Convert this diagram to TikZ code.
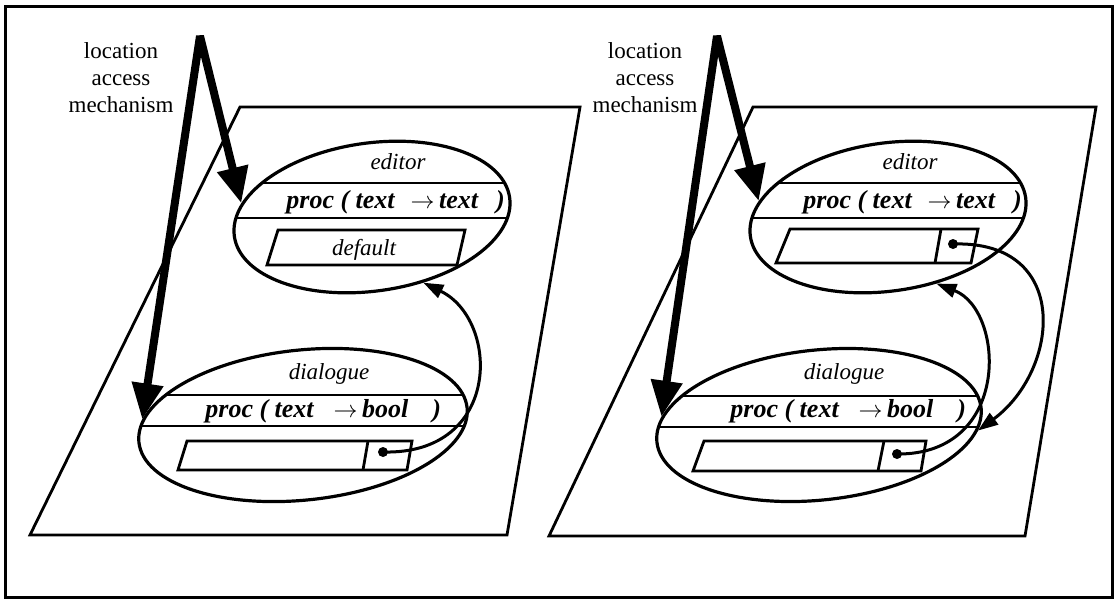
\documentclass[tikz,border=0pt]{standalone}
\usepackage{fontspec}
\setmainfont{Liberation Serif}
\usetikzlibrary{arrows.meta,shapes.geometric}
\tikzstyle{plane} = [line width=1.4pt, line join=miter]
\tikzstyle{cell} = [ellipse, draw, line width=1.6pt, inner sep=0pt]
\tikzstyle{slot} = [line width=1.4pt]
\tikzstyle{rule} = [line width=1.4pt]
\tikzstyle{access} = [line width=4pt, line join=bevel, arrows={Triangle[length=18pt,width=15pt]-Triangle[length=18pt,width=15pt]}]
\tikzstyle{link} = [line width=1.5pt, -{Triangle[length=10pt,width=7pt]}]
\tikzstyle{ptdot} = [circle, fill, inner sep=0pt, minimum size=5pt]
\tikzstyle{tag} = [inner sep=0pt, font=\fontsize{11.5}{13.5}\selectfont\itshape]
\tikzstyle{sig} = [inner sep=0pt, anchor=base west, font=\fontsize{13}{15}\selectfont\bfseries\itshape]
\tikzstyle{mech} = [inner sep=0pt, anchor=north, align=center, font=\fontsize{11.5}{13.5}\selectfont]

\begin{document}
\begin{tikzpicture}[x=0.5pt, y=-0.5pt]
\useasboundingbox (0,0) rectangle (1117,601);
\draw[line width=1.5pt] (5,6) rectangle (1112,597);

% Left panel: default value
\draw[plane] (240,107) -- (580,107) -- (507,535) -- (30,535) -- cycle;
\node[cell, rotate=8, minimum width=139pt, minimum height=74pt] (edL) at (372,217) {};
\node[cell, rotate=6, minimum width=165pt, minimum height=75pt] (dlL) at (303,425) {};
\begin{scope}
\clip[rotate around={8:(edL.center)}] (edL.center) ellipse [x radius=139, y radius=74];
\draw[rule] (200,183) -- (560,183) (200,218) -- (560,218);
\end{scope}
\begin{scope}
\clip[rotate around={6:(dlL.center)}] (dlL.center) ellipse [x radius=165, y radius=75];
\draw[rule] (100,395) -- (500,395) (100,426) -- (500,426);
\end{scope}

\node[tag] (edLname) at (398,162) {editor};
\node[sig] (edLsig) at (286,208) {proc ( text\hspace{8pt}$\rightarrow$\,text\hspace{9pt})};
\draw[slot] (278,230) -- (465,230) -- (457,265) -- (267,265) -- cycle;
\node[tag, anchor=base] (dflt) at (364,255) {default};

\node[tag] (dlLname) at (329,374) {dialogue};
\node[sig] (dlLsig) at (205,417) {proc ( text\hspace{10pt}$\rightarrow$\,bool\hspace{12pt})};
\draw[slot] (187,441) -- (412,441) -- (407,470) -- (178,470) -- cycle;
\draw[slot] (368,441) -- (363,470);
\node[ptdot] (dotL) at (383,452) {};

\node[mech] (lamL) at (121,42) {location\\access\\mechanism};
\coordinate (apexL) at (200,36);
\draw[access] (edL.166) -- (apexL) -- (dlL.172);
\draw[link] (dotL.center) .. controls (502,455) and (500,320) .. (edL.-60);

% Right panel: shared location
\draw[plane] (753,107) -- (1096,107) -- (1025,536) -- (549,536) -- cycle;
\node[cell, rotate=8, minimum width=139pt, minimum height=74pt] (edR) at (888,217) {};
\node[cell, rotate=6, minimum width=163pt, minimum height=75pt] (dlR) at (819,425) {};
\begin{scope}
\clip[rotate around={8:(edR.center)}] (edR.center) ellipse [x radius=139, y radius=74];
\draw[rule] (700,183) -- (1080,183) (700,218) -- (1080,218);
\end{scope}
\begin{scope}
\clip[rotate around={6:(dlR.center)}] (dlR.center) ellipse [x radius=163, y radius=75];
\draw[rule] (600,396) -- (1020,396) (600,427) -- (1020,427);
\end{scope}

\node[tag] (edRname) at (910,162) {editor};
\node[sig] (edRsig) at (803,208) {proc ( text\hspace{8pt}$\rightarrow$\,text\hspace{9pt})};
\draw[slot] (790,229) -- (978,229) -- (971,263) -- (776,263) -- cycle;
\draw[slot] (941,229) -- (935,263);
\node[ptdot] (dotRe) at (953,244) {};

\node[tag] (dlRname) at (844,374) {dialogue};
\node[sig] (dlRsig) at (730,417) {proc ( text\hspace{10pt}$\rightarrow$\,bool\hspace{12pt})};
\draw[slot] (704,441) -- (926,441) -- (921,471) -- (693,471) -- cycle;
\draw[slot] (884,441) -- (878,471);
\node[ptdot] (dotRd) at (897,454) {};

\node[mech] (lamR) at (645,42) {location\\access\\mechanism};
\coordinate (apexR) at (717,36);
\draw[access] (edR.165) -- (apexR) -- (dlR.171);
\draw[link] (dotRd.center) .. controls (1012,455) and (1005,310) .. (edR.-62);
\draw[link] (dotRe.center) .. controls (1072,240) and (1060,370) .. (dlR.-8);
\end{tikzpicture}
\end{document}
